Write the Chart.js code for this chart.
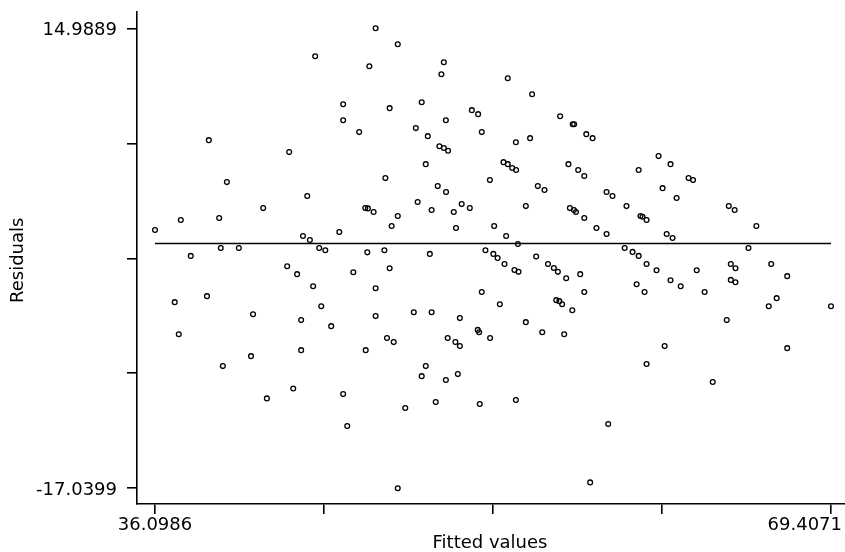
<!DOCTYPE html>
<html lang="en">
<head>
  <meta charset="UTF-8" />
  <title>Residuals vs Fitted values</title>
  <script src="https://cdn.jsdelivr.net/npm/chart.js"></script>
  <style>
    html, body { margin: 0; padding: 0; background: #fff; }
    canvas { display: block; }
  </style>
</head>
<body>
  <canvas id="resChart" width="845" height="552"></canvas>

  <script>
    // values
    const fitted = [
      46.97, 43.99, 46.66, 45.37, 45.37, 46.16, 38.75, 42.71, 39.64, 43.60,
      41.43, 46.46, 46.59, 46.87, 37.37, 39.26, 36.0986, 43.39, 43.73, 45.18,
      37.86, 39.34, 40.23, 44.19, 44.49, 46.56, 47.40,
      48.06, 50.33, 50.21, 53.48, 54.68, 47.66, 49.24, 51.71, 52.02, 50.43,
      56.06, 56.68, 56.75, 48.95, 49.54, 52.20, 57.35, 57.66, 53.88, 54.58,
      50.11, 50.33, 50.54, 49.44, 53.27, 53.48, 53.70, 53.89, 56.47, 56.95,
      57.25, 47.45, 52.60, 50.03, 50.44, 54.96, 55.29, 58.35, 58.64, 49.04,
      49.73, 51.21, 51.61, 50.82, 54.37, 56.54, 56.74, 56.84, 57.25, 48.06,
      47.76, 50.93, 52.81, 53.40, 53.98, 57.85, 58.35, 49.64, 52.38, 52.77,
      54.88,
      60.91, 61.50, 59.93, 62.39, 62.61, 61.11, 61.80, 59.33, 60.02, 60.12,
      60.32, 64.37, 64.66, 65.73, 61.31, 61.60, 59.24, 59.63, 59.93, 65.34,
      42.61, 43.10, 45.87, 43.89, 46.97, 37.07, 38.66, 44.29, 40.93, 43.30,
      44.78, 46.97, 37.27, 43.30, 46.48, 40.83, 39.44, 42.91, 41.61, 45.37,
      45.57,
      47.66, 52.98, 53.32, 53.81, 54.01, 55.46, 55.75, 55.95, 56.36, 57.05,
      57.25, 52.20, 53.09, 48.85, 49.73, 51.12, 55.87, 56.02, 56.16, 56.66,
      54.37, 55.18, 56.26, 52.00, 52.07, 52.61, 47.53, 47.86, 50.52, 50.90,
      51.12, 49.44, 49.24, 50.43, 51.02, 49.93, 48.43, 52.10, 53.88, 58.43,
      48.06, 57.54,
      60.32, 60.81, 59.83, 60.22, 61.50, 62.00, 62.79, 63.18, 64.47, 64.70,
      64.47, 64.70, 66.46, 67.25, 66.73, 66.34, 69.4071, 64.27, 61.21, 67.25,
      60.32, 63.58
    ];

    const residuals = [
      14.9889, 13.04, 12.35, 9.70, 8.59, 7.76, 7.20, 6.37, 4.28, 3.31,
      2.47, 2.47, 2.45, 2.20, 1.64, 1.78, 0.95, 0.53, 0.25, 0.81,
      -0.86, -0.31, -0.31, -0.31, -0.47, -0.61, -0.47,
      13.88, 12.62, 11.79, 11.51, 10.40, 9.43, 9.84, 9.29, 9.01, 8.59,
      8.87, 8.31, 8.31, 8.04, 7.48, 7.76, 7.62, 7.34, 7.06, 7.34,
      6.78, 6.65, 6.46, 5.53, 5.67, 5.53, 5.26, 5.12, 5.53, 5.12,
      4.70, 4.56, 4.42, 4.00, 3.59, 4.00, 3.73, 3.59, 3.31, 2.89,
      2.34, 2.75, 2.47, 2.20, 2.61, 2.47, 2.34, 2.20, 1.78, 1.92,
      1.22, 1.08, 1.22, 0.53, -0.03, 1.08, 0.67, -0.72, -0.47, -0.72,
      -0.90,
      6.09, 5.53, 5.12, 4.56, 4.42, 3.86, 3.17, 2.61, 1.92, 1.87,
      1.64, 2.61, 2.34, 1.22, 0.67, 0.39, -0.31, -0.58, -0.86, -0.31,
      -1.58, -2.13, -2.00, -2.97, -3.11, -4.08, -3.66, -4.36, -4.92, -5.33,
      -5.75, -5.05, -6.31, -7.42, -7.42, -7.84, -8.53, -10.09, -10.78, -10.48,
      -12.70,
      -1.72, -1.00, -1.42, -1.84, -1.97, -1.42, -1.70, -1.97, -2.41, -2.13,
      -3.37, -3.37, -4.22, -4.78, -4.78, -5.19, -3.94, -4.01, -4.22, -4.64,
      -5.47, -6.17, -6.31, -6.01, -6.17, -6.58, -6.58, -6.86, -6.58, -6.86,
      -7.14, -8.53, -9.23, -9.50, -9.09, -11.03, -11.45, -11.17, -10.89, -12.56,
      -17.0399, -16.63,
      -1.42, -1.86, -2.83, -3.37, -2.55, -2.97, -1.86, -3.37, -1.42, -1.72,
      -2.53, -2.69, -1.42, -2.27, -3.80, -4.36, -4.36, -5.33, -7.14, -7.28,
      -8.39, -9.64
    ];

    // axis ticks (only the end ones carry a label)
    const xTicks = [36.0986, 44.4257, 52.7529, 61.0800, 69.4071];
    const xTickLabels = ["36.0986", "", "", "", "69.4071"];
    const yTicks = [14.9889, 6.9817, -1.0255, -9.0327, -17.0399];
    const yTickLabels = ["14.9889", "", "", "", "-17.0399"];

    const xTitle = "Fitted values";
    const yTitle = "Residuals";

    const points = fitted.map((f, i) => ({ x: f, y: residuals[i] }));
    const zeroLine = [
      { x: xTicks[0], y: 0 },
      { x: xTicks[xTicks.length - 1], y: 0 }
    ];

    const FONT = '18px "DejaVu Sans", "Liberation Sans", sans-serif';

    // draws tick labels and axis titles the way the old Mac plot does
    const labelPlugin = {
      id: 'macLabels',
      afterDraw(chart) {
        const ctx = chart.ctx;
        const xs = chart.scales.x;
        const ys = chart.scales.y;
        const area = chart.chartArea;
        ctx.save();
        ctx.fillStyle = '#000';
        ctx.font = FONT;

        // y tick labels
        ctx.textAlign = 'right';
        ctx.textBaseline = 'alphabetic';
        yTicks.forEach((v, i) => {
          if (!yTickLabels[i]) return;
          ctx.fillText(yTickLabels[i], area.left - 20, ys.getPixelForValue(v) + 7);
        });

        // x tick labels, kept inside the canvas
        ctx.textAlign = 'left';
        xTicks.forEach((v, i) => {
          if (!xTickLabels[i]) return;
          const w = ctx.measureText(xTickLabels[i]).width;
          let left = xs.getPixelForValue(v) - w / 2;
          if (left + w > chart.width - 3) left = chart.width - 3 - w;
          ctx.fillText(xTickLabels[i], left, area.bottom + 26);
        });

        // titles
        ctx.textAlign = 'center';
        ctx.fillText(xTitle, (xs.getPixelForValue(xTicks[0]) + xs.getPixelForValue(xTicks[4])) / 2 - 3, area.bottom + 44);
        ctx.translate(23, (ys.getPixelForValue(yTicks[0]) + ys.getPixelForValue(yTicks[4])) / 2 + 2);
        ctx.rotate(-Math.PI / 2);
        ctx.fillText(yTitle, 0, 0);
        ctx.restore();
      }
    };

    const axisLook = {
      grid: { drawOnChartArea: false, drawTicks: true, tickLength: 10, color: '#000', lineWidth: 1.6 },
      border: { display: true, color: '#000', width: 1.6 },
      ticks: { display: false }
    };

    const ctx = document.getElementById('resChart').getContext('2d');
    new Chart(ctx, {
      type: 'scatter',
      data: {
        datasets: [{
          label: 'Residuals',
          data: points,
          pointStyle: 'circle',
          pointRadius: 2.4,
          pointBorderWidth: 1.3,
          pointBorderColor: '#000',
          pointBackgroundColor: 'rgba(0,0,0,0)',
          showLine: false
        }, {
          label: 'zero',
          type: 'line',
          data: zeroLine,
          borderColor: '#000',
          borderWidth: 1.6,
          pointRadius: 0,
          fill: false
        }]
      },
      options: {
        responsive: false,
        animation: false,
        devicePixelRatio: 1,
        layout: { autoPadding: false, padding: { top: 11.5, right: 0, left: 0, bottom: 0 } },
        plugins: {
          legend: { display: false },
          tooltip: { enabled: false }
        },
        scales: {
          x: {
            type: 'linear',
            min: 35.2117,
            max: 70.0969,
            ...axisLook,
            afterBuildTicks: s => { s.ticks = xTicks.map(v => ({ value: v })); },
            afterFit: s => { s.height = 48; s.paddingLeft = 0; s.paddingRight = 0; }
          },
          y: {
            type: 'linear',
            min: -18.1331,
            max: 16.1587,
            ...axisLook,
            afterBuildTicks: s => { s.ticks = yTicks.map(v => ({ value: v })); },
            afterFit: s => { s.width = 137; }
          }
        }
      },
      plugins: [labelPlugin]
    });
  </script>
</body>
</html>
